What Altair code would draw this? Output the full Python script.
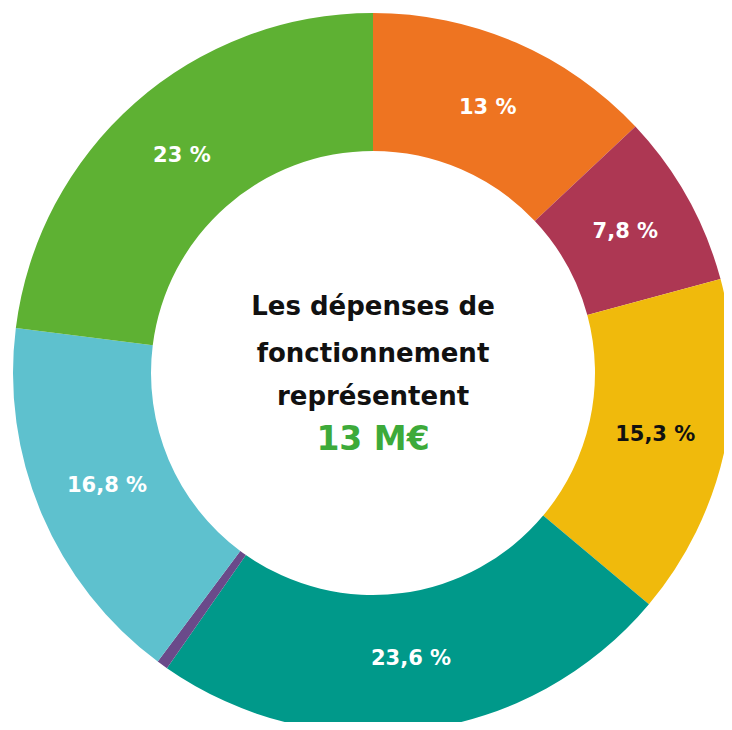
import altair as alt
import pandas as pd

cats = ["s1", "s2", "s3", "s4", "s5", "s6", "s7"]
values = [13, 7.8, 15.3, 23.6, 0.5, 16.8, 23]
labels = ["13 %", "7,8 %", "15,3 %", "23,6 %", "", "16,8 %", "23 %"]
colors = ["#EE7421", "#AD3753", "#F0BA0C", "#00998A", "#6A4A8A", "#5EC1CE", "#5EB133"]
label_colors = ["#FFFFFF", "#FFFFFF", "#111111", "#FFFFFF", "#FFFFFF", "#FFFFFF", "#FFFFFF"]

center_lines = ["Les dépenses de", "fonctionnement", "représentent"]
center_value = "13 M€"

df = pd.DataFrame({
    "cat": cats,
    "value": values,
    "label": labels,
    "lcol": label_colors,
    "idx": list(range(len(cats))),
})

FONT = "DejaVu Sans"
CX, CY = 365, 365

base = alt.Chart(df).encode(
    theta=alt.Theta("value:Q", stack=True),
    order=alt.Order("idx:Q"),
)

arcs = base.mark_arc(x=CX, y=CY, outerRadius=360, innerRadius=222).encode(
    color=alt.Color("cat:N", scale=alt.Scale(domain=cats, range=colors), legend=None)
)

slice_labels = base.mark_text(
    x=CX, y=CY, radius=289, fontSize=21, fontWeight="bold", font=FONT
).encode(
    text="label:N",
    color=alt.Color("lcol:N", scale=None),
)

layers = [arcs, slice_labels]
ys = [307, 354, 397]
for t, yv in zip(center_lines, ys):
    layers.append(
        alt.Chart(pd.DataFrame({"t": [t]})).mark_text(
            x=CX, y=yv, baseline="alphabetic", fontSize=26, fontWeight="bold",
            font=FONT, color="#111111"
        ).encode(text="t:N")
    )
layers.append(
    alt.Chart(pd.DataFrame({"t": [center_value]})).mark_text(
        x=CX, y=442, baseline="alphabetic", fontSize=33, fontWeight="bold",
        font=FONT, color="#3DAA3A"
    ).encode(text="t:N")
)

chart = alt.layer(*layers).properties(
    width=716, height=714,
    autosize=alt.AutoSizeParams(type="none"),
    padding=0,
).configure_view(stroke=None)

chart.save("out.html", embed_options={"renderer": "svg", "actions": False})
